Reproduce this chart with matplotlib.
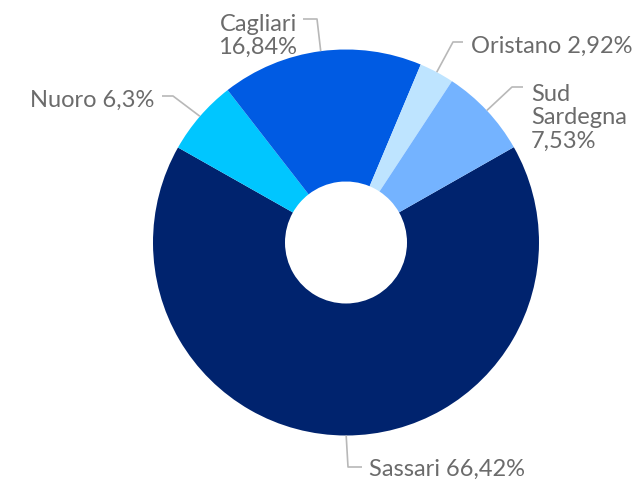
import numpy as np
import matplotlib
matplotlib.use("Agg")
import matplotlib.pyplot as plt

plt.rcParams['font.family'] = ['Lato', 'DejaVu Sans']

# ---- data (clockwise order, starting at the right) ----
categories = ["Sassari", "Nuoro", "Cagliari", "Oristano", "Sud Sardegna"]
values = [66.42, 6.3, 16.84, 2.92, 7.53]
label_texts = ["Sassari 66,42%", "Nuoro 6,3%", "Cagliari\n16,84%",
               "Oristano 2,92%", "Sud\nSardegna\n7,53%"]

# ---- styles / layout ----
colors = ["#00236E", "#00C6FF", "#005BE3", "#BEE4FF", "#74B3FF"]
W, H = 639, 481
cx, cy = 346, H - 243.5
R = 193
r_in = 61
start_angle = 29.6
# elbow and end (pixel coords, y down) of the leader lines, plus text anchor
elbows = [(348, 468), (173, 97), (317, 20), (453, 43), (512, 88)]
ends = [(362, 468), (162, 97), (303, 20), (463, 43), (523, 88)]
text_pos = [(369, 469), (154, 100), (297, 36), (471, 46), (531, 118)]
text_ha = ["left", "right", "right", "left", "left"]
text_color = "#6b6b6b"
line_color = "#b8b8b8"

fig = plt.figure(figsize=(W / 100, H / 100), dpi=100)
ax = fig.add_axes([0, 0, 1, 1])
ax.set_xlim(0, W)
ax.set_ylim(0, H)
ax.set_aspect('equal')
ax.axis('off')

wedges, _ = ax.pie(values, colors=colors, startangle=start_angle, counterclock=False,
                   center=(cx, cy), radius=R,
                   wedgeprops=dict(width=R - r_in, linewidth=0))
ax.set_xlim(0, W)
ax.set_ylim(0, H)

for w, el, en, tp, ha, txt in zip(wedges, elbows, ends, text_pos, text_ha, label_texts):
    mid = np.deg2rad((w.theta1 + w.theta2) / 2)
    ax_, ay_ = cx + R * np.cos(mid), cy + R * np.sin(mid)
    ax.plot([ax_, el[0], en[0]], [ay_, H - el[1], H - en[1]], color=line_color, lw=1.2,
            solid_capstyle='butt')
    ax.text(tp[0], H - tp[1], txt, ha=ha, va='center', fontsize=17,
            color=text_color, linespacing=1.13)

fig.savefig("out.png", dpi=100)
